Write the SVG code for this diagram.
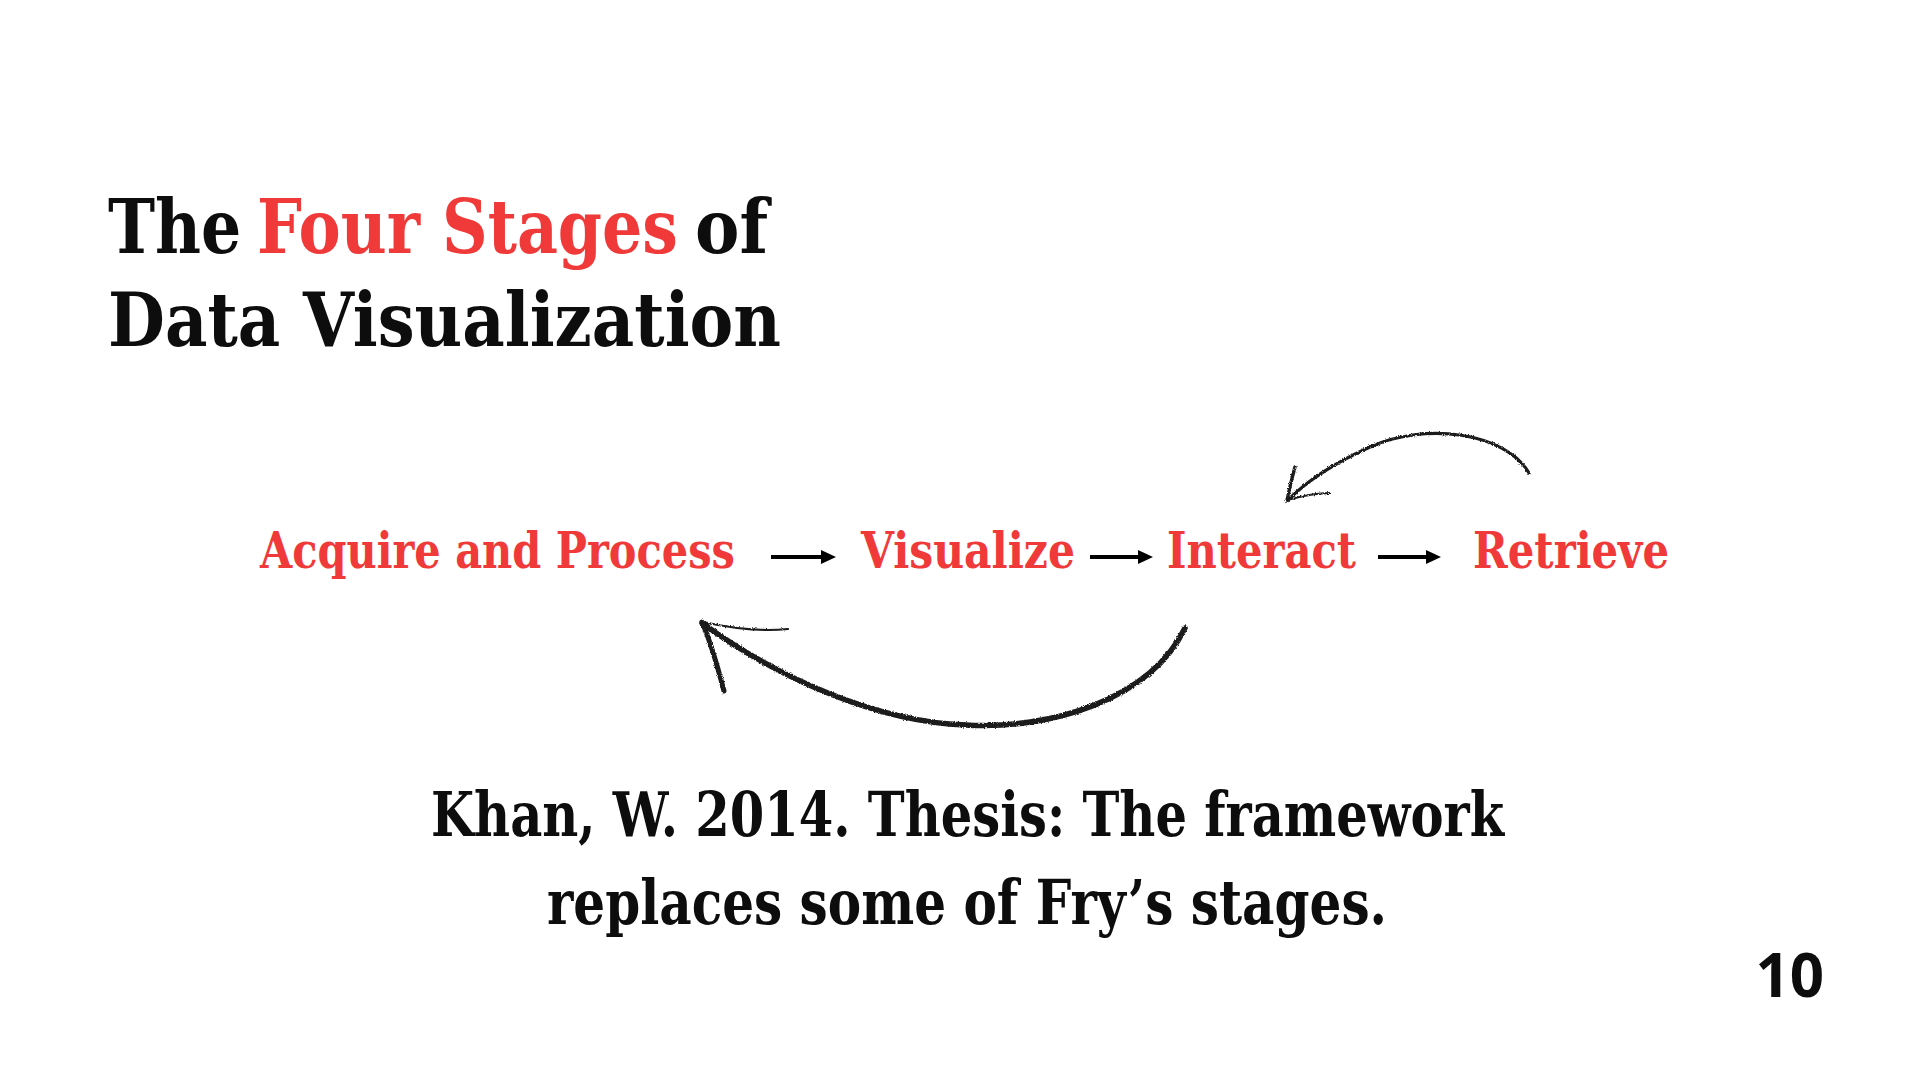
<svg xmlns="http://www.w3.org/2000/svg" width="1920" height="1080" viewBox="0 0 1920 1080">
  <style>
    .serif { font-family: "DejaVu Serif", "Liberation Serif", serif; font-weight: bold; }
    .black { fill: #0d0d0d; }
    .red { fill: #F03A3A; }
    .title { font-size: 74px; }
    .stage { font-size: 50px; }
    .cite { font-size: 62px; }
    .pagenum { font-family: "Open Sans", "Noto Sans", "DejaVu Sans", sans-serif; font-weight: bold; font-size: 60px; fill: #0d0d0d; }
    .flow { stroke: #000; stroke-width: 4; fill: none; }
    .sketch { stroke: #1a1a1a; fill: none; stroke-linecap: round; stroke-linejoin: round; }
  </style>
  <defs>
    <marker id="head" markerUnits="userSpaceOnUse" markerWidth="16" markerHeight="16" refX="2" refY="8" orient="auto">
      <path d="M0,1 L15,8 L0,15 Z" fill="#000"/>
    </marker>
    <filter id="rough" x="-5%" y="-20%" width="110%" height="140%">
      <feTurbulence type="fractalNoise" baseFrequency="0.9" numOctaves="2" seed="3" result="n"/>
      <feDisplacementMap in="SourceGraphic" in2="n" scale="3" xChannelSelector="R" yChannelSelector="G"/>
    </filter>
  </defs>
  <rect width="1920" height="1080" fill="#ffffff"/>

  <g id="title" class="serif title">
    <text class="black" transform="translate(108,253) scale(0.855,1)">The</text>
    <text class="red" transform="translate(257,253) scale(0.855,1)">Four Stages</text>
    <text class="black" transform="translate(695,253) scale(0.9,1)">of</text>
    <text class="black" x="108" y="346" textLength="673" lengthAdjust="spacingAndGlyphs">Data Visualization</text>
  </g>

  <g id="node-acquire" class="serif stage red">
    <text x="260" y="568" textLength="475" lengthAdjust="spacingAndGlyphs">Acquire and Process</text>
  </g>
  <g id="node-visualize" class="serif stage red">
    <text x="861" y="568" textLength="214" lengthAdjust="spacingAndGlyphs">Visualize</text>
  </g>
  <g id="node-interact" class="serif stage red">
    <text x="1167" y="568" textLength="189" lengthAdjust="spacingAndGlyphs">Interact</text>
  </g>
  <g id="node-retrieve" class="serif stage red">
    <text x="1473" y="568" textLength="196" lengthAdjust="spacingAndGlyphs">Retrieve</text>
  </g>

  <g id="connectors">
    <line class="flow" x1="771" y1="557" x2="823" y2="557" marker-end="url(#head)"/>
    <line class="flow" x1="1090" y1="557" x2="1140" y2="557" marker-end="url(#head)"/>
    <line class="flow" x1="1378" y1="557" x2="1428" y2="557" marker-end="url(#head)"/>
    <g id="loop-interact-to-acquire" filter="url(#rough)">
      <path class="sketch" stroke-width="5.5" d="M1185,628 C1150,700 1050,730 965,725 C880,722 780,680 702,623"/>
      <path class="sketch" stroke-width="5" d="M702,622 C712,645 718,668 724,691"/>
      <path class="sketch" stroke-width="2.2" d="M703,622 C730,628 760,632 788,629"/>
    </g>
    <g id="loop-retrieve-to-interact" filter="url(#rough)">
      <path class="sketch" stroke-width="3.2" d="M1529,473 C1505,432 1425,422 1370,447 C1332,464 1305,483 1288,500"/>
      <path class="sketch" stroke-width="3.4" d="M1287,501 C1289,490 1292,478 1295,467"/>
      <path class="sketch" stroke-width="1.8" d="M1288,500 C1302,496 1316,493 1330,493"/>
    </g>
  </g>

  <g id="citation" class="serif cite black">
    <text x="431" y="836" textLength="1073" lengthAdjust="spacingAndGlyphs">Khan, W. 2014. Thesis: The framework</text>
    <text x="547" y="924" textLength="840" lengthAdjust="spacingAndGlyphs">replaces some of Fry’s stages.</text>
  </g>

  <g id="page-number">
    <text class="pagenum" x="1824" y="997" text-anchor="end">10</text>
  </g>
</svg>
